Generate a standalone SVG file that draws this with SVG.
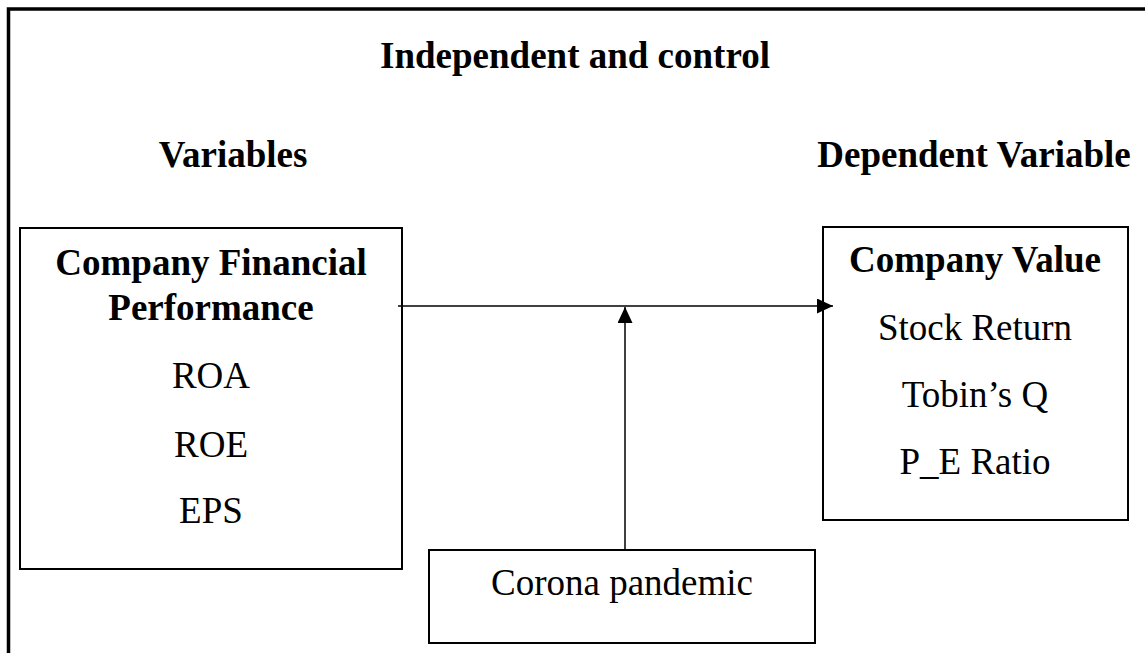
<svg xmlns="http://www.w3.org/2000/svg" width="1145" height="653" viewBox="0 0 1145 653">
<defs>
<style>
.t{font-family:"Liberation Serif","Times New Roman",serif;font-size:37px;fill:#000;text-anchor:middle}
.b{font-weight:bold}
.box{fill:#fff;stroke:#000;stroke-width:2}
.ln{stroke:#000;stroke-width:1.5;fill:none}
</style>
<marker id="ah" viewBox="0 0 16 15" refX="16" refY="7.5" markerWidth="16" markerHeight="15" markerUnits="userSpaceOnUse" orient="auto">
<path d="M0,0 L16,7.5 L0,15 Z" fill="#000"/>
</marker>
</defs>
<rect width="1145" height="653" fill="#fff"/>
<rect x="8.5" y="9" width="1160" height="670" fill="none" stroke="#000" stroke-width="3.5"/>
<text class="t b" x="575" y="68">Independent and control</text>
<text class="t b" x="233" y="167">Variables</text>
<text class="t b" x="974" y="167">Dependent Variable</text>
<g id="left">
<rect class="box" x="20" y="228" width="382" height="341"/>
<text class="t b" x="211" y="275">Company Financial</text>
<text class="t b" x="211" y="320">Performance</text>
<text class="t" x="211" y="388">ROA</text>
<text class="t" x="211" y="457">ROE</text>
<text class="t" x="211" y="523">EPS</text>
</g>
<g id="right">
<rect class="box" x="823" y="227" width="305" height="293"/>
<text class="t b" x="975" y="272">Company Value</text>
<text class="t" x="975" y="340">Stock Return</text>
<text class="t" x="975" y="407">Tobin’s Q</text>
<text class="t" x="975" y="474">P_E Ratio</text>
</g>
<g id="corona">
<rect class="box" x="429" y="550" width="386" height="93"/>
<text class="t" x="622" y="595">Corona pandemic</text>
</g>
<g id="connectors">
<line class="ln" x1="398" y1="306" x2="833" y2="306" marker-end="url(#ah)"/>
<line class="ln" x1="625" y1="550" x2="625" y2="307" marker-end="url(#ah)"/>
</g>
</svg>
